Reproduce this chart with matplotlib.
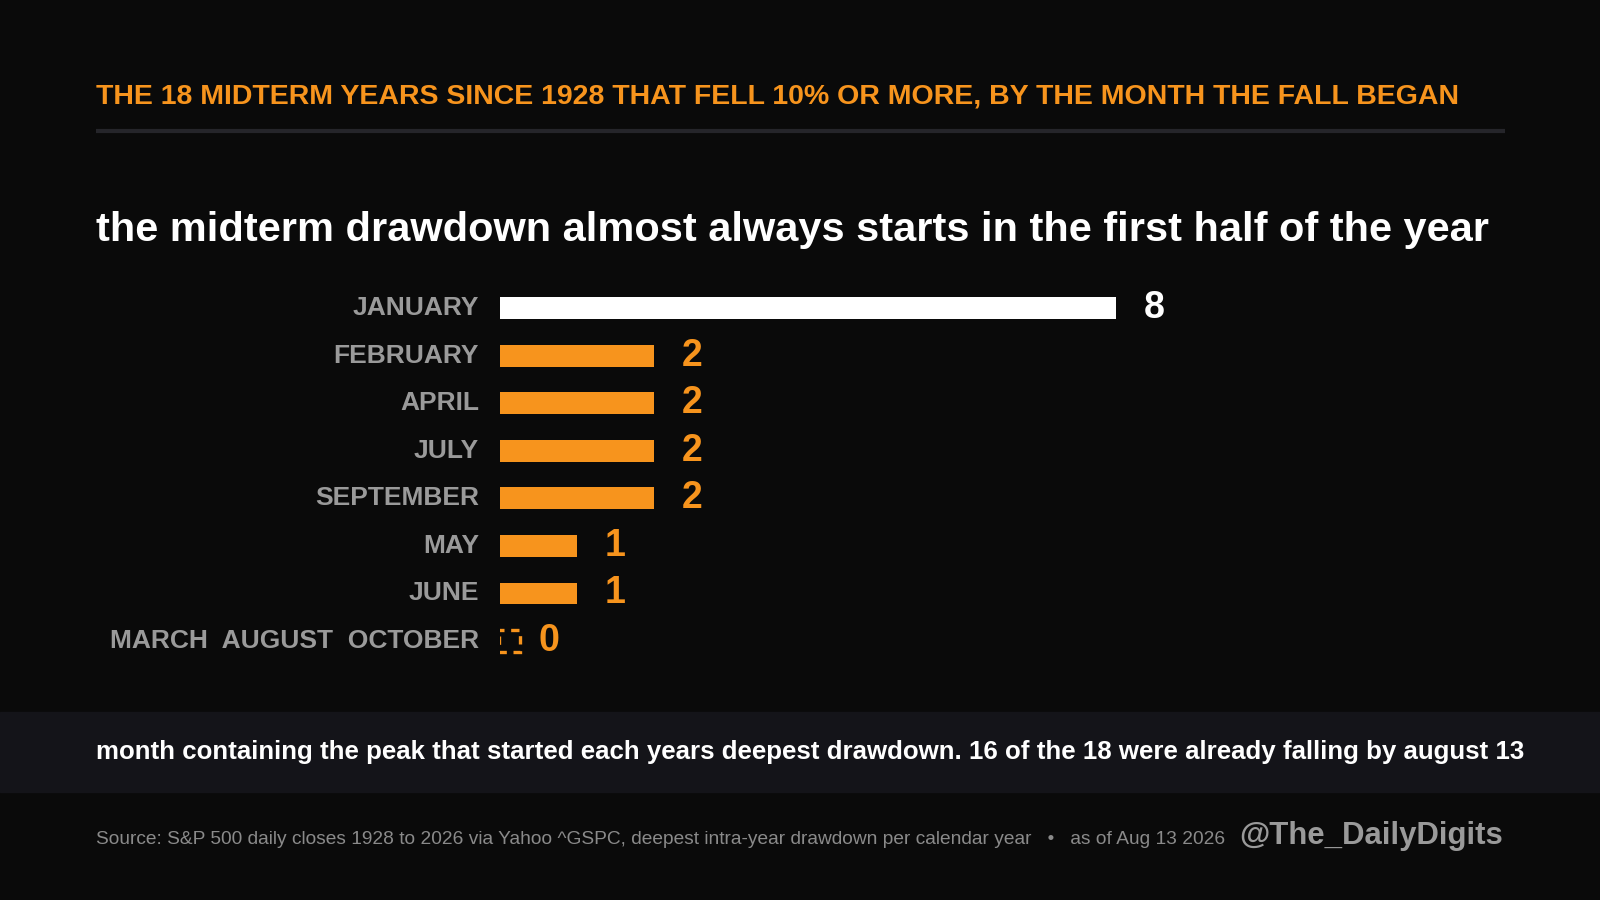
import matplotlib.pyplot as plt
from matplotlib.patches import Rectangle

plt.rcParams['font.family'] = ['Liberation Sans', 'DejaVu Sans']

# data
months = ['JANUARY', 'FEBRUARY', 'APRIL', 'JULY', 'SEPTEMBER', 'MAY', 'JUNE',
          'MARCH  AUGUST  OCTOBER']
counts = [8, 2, 2, 2, 2, 1, 1, 0]

title = 'THE 18 MIDTERM YEARS SINCE 1928 THAT FELL 10% OR MORE, BY THE MONTH THE FALL BEGAN'
subtitle = 'the midterm drawdown almost always starts in the first half of the year'
note = 'month containing the peak that started each years deepest drawdown. 16 of the 18 were already falling by august 13'
source = ('Source: S&P 500 daily closes 1928 to 2026 via Yahoo ^GSPC, deepest intra-year '
          'drawdown per calendar year   \u2022   as of Aug 13 2026')
handle = '@The_DailyDigits'

bg = '#0a0a0a'
orange = '#f7941d'
grey = '#9a9a9a'

fig = plt.figure(figsize=(16, 9), dpi=100, facecolor=bg)

# header
fig.text(96 / 1600, 1 - 96 / 900, title, color=orange, fontsize=20.5,
         fontweight='bold', va='center', ha='left')
fig.add_artist(plt.Line2D([96 / 1600, 1505 / 1600], [1 - 131 / 900] * 2,
                          color='#25252a', lw=3, solid_capstyle='butt'))
fig.text(96 / 1600, 1 - 230 / 900, subtitle, color='white', fontsize=29.85,
         fontweight='bold', va='center', ha='left')

# bars
ax = fig.add_axes([500 / 1600, 0.2613, 616 / 1600, 0.4229])
ax.set_facecolor(bg)
y = list(range(len(months)))
bar_h = 0.46
colors = ['white' if i == 0 else orange for i in range(len(months))]
ax.barh(y, counts, height=bar_h, color=colors)
ax.set_xlim(0, 8)
ax.set_ylim(len(months) - 0.5, -0.5)

box_w = 22 / 77
for i, (m, c) in enumerate(zip(months, counts)):
    ax.text(-21 / 77, i, m, color=grey, fontsize=19, fontweight='bold',
            ha='right', va='center')
    if c == 0:
        ax.add_patch(Rectangle((-1 / 77, i - bar_h / 2), box_w - 1 / 77, bar_h,
                               fill=False, edgecolor=orange, lw=2.4,
                               linestyle=(1, (2.5, 2.0))))
        xv = box_w + 16 / 77
    else:
        xv = c + 28 / 77
    ax.text(xv, i, str(c), color=colors[i], fontsize=27, fontweight='bold',
            ha='left', va='center')

ax.axis('off')

# note band
fig.add_artist(Rectangle((0, 1 - 792 / 900), 1, 80 / 900, color='#141419',
                         transform=fig.transFigure, zorder=0))
fig.text(96 / 1600, 1 - 752 / 900, note, color='white', fontsize=18.6,
         fontweight='bold', va='center', ha='left')

# footer
fig.text(96 / 1600, 1 - 840 / 900, source, color='#8a8a8a', fontsize=13.77,
         va='center', ha='left')
fig.text(1503 / 1600, 1 - 836 / 900, handle, color=grey, fontsize=22.4,
         fontweight='bold', va='center', ha='right')

fig.savefig('out.png', dpi=100, facecolor=bg)
